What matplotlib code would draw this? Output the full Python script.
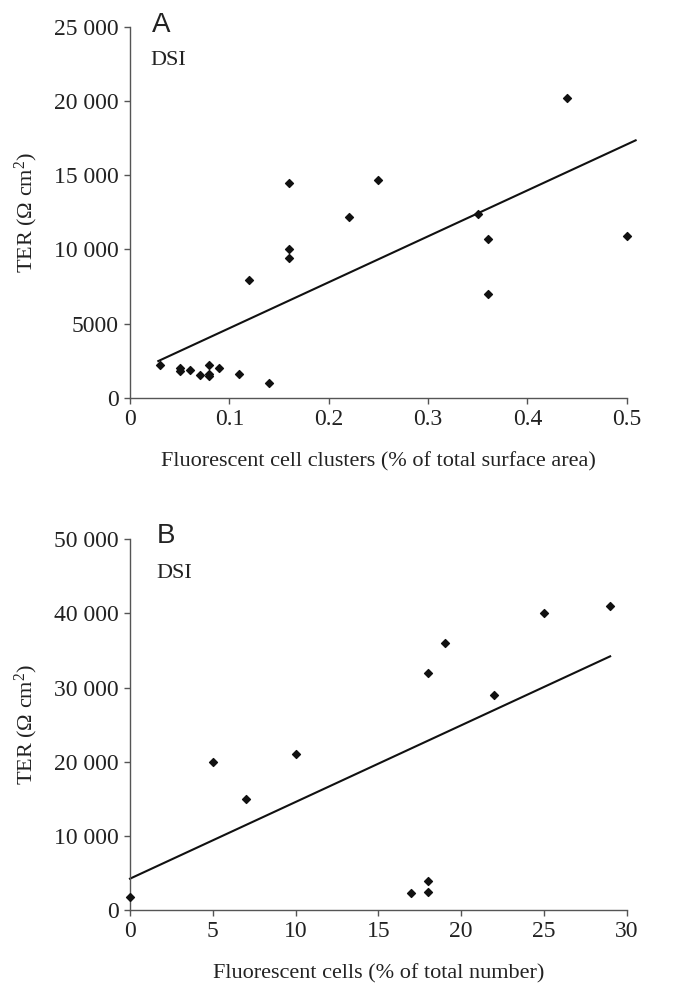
import matplotlib
matplotlib.use("Agg")
import matplotlib.pyplot as plt
import numpy as np

plt.rcParams["font.family"] = "Liberation Serif"
plt.rcParams["mathtext.fontset"] = "custom"
plt.rcParams["mathtext.rm"] = "Liberation Serif"
plt.rcParams["mathtext.it"] = "Liberation Serif:italic"

# Panel A: cluster area vs TER
clusters_pct = [0.03, 0.05, 0.05, 0.06, 0.07, 0.08, 0.08, 0.08, 0.09, 0.11, 0.14,
                0.12, 0.16, 0.16, 0.16, 0.22, 0.25, 0.35, 0.36, 0.36, 0.44, 0.50]
ter_a = [2200, 2000, 1800, 1850, 1550, 2200, 1600, 1450, 2000, 1600, 1000,
         7900, 14500, 10000, 9400, 12200, 14700, 12400, 10700, 7000, 20200, 10900]
trend_a = (30950, 1590)          # slope, intercept
trend_a_range = (0.0285, 0.509)
yticks_a = [0, 5000, 10000, 15000, 20000, 25000]
yticklabels_a = ["0", "5000", "10 000", "15 000", "20 000", "25 000"]
xticks_a = [0, 0.1, 0.2, 0.3, 0.4, 0.5]
xticklabels_a = ["0", "0.1", "0.2", "0.3", "0.4", "0.5"]

# Panel B: fluorescent cell count vs TER
cells_pct = [0, 5, 7, 10, 17, 18, 18, 18, 19, 22, 25, 29]
ter_b = [1800, 20000, 15000, 21000, 2250, 3900, 2450, 32000, 36000, 29000, 40000, 41000]
trend_b = (1034, 4230)
trend_b_range = (0, 29)
yticks_b = [0, 10000, 20000, 30000, 40000, 50000]
yticklabels_b = ["0", "10 000", "20 000", "30 000", "40 000", "50 000"]
xticks_b = [0, 5, 10, 15, 20, 25, 30]
xticklabels_b = ["0", "5", "10", "15", "20", "25", "30"]

fig = plt.figure(figsize=(6.77, 9.85), dpi=100)
ax_a = fig.add_axes([0.192, 0.5962, 0.7337, 0.3767])
ax_b = fig.add_axes([0.192, 0.0761, 0.7337, 0.3764])

panels = [
    (ax_a, clusters_pct, ter_a, trend_a, trend_a_range, xticks_a, xticklabels_a,
     yticks_a, yticklabels_a, (0, 0.5), (0, 25000), "A", (0.044, 0.9865), (0.042, 0.897),
     "Fluorescent cell clusters (% of total surface area)"),
    (ax_b, cells_pct, ter_b, trend_b, trend_b_range, xticks_b, xticklabels_b,
     yticks_b, yticklabels_b, (0, 30), (0, 50000), "B", (0.054, 0.990), (0.054, 0.8956),
     "Fluorescent cells (% of total number)"),
]

for (ax, xs, ys, trend, xr, xt, xtl, yt, ytl, xlim, ylim, letter, lpos, dpos, xlabel) in panels:
    ax.scatter(xs, ys, marker="D", s=16, color="#111111", zorder=3, clip_on=False)
    lx = np.array(xr)
    ax.plot(lx, trend[0] * lx + trend[1], color="#111111", lw=1.5, clip_on=False)
    ax.set_xlim(*xlim)
    ax.set_ylim(*ylim)
    ax.set_xticks(xt)
    ax.set_xticklabels(xtl)
    ax.set_yticks(yt)
    ax.set_yticklabels(ytl)
    for side in ["top", "right"]:
        ax.spines[side].set_visible(False)
    for side in ["left", "bottom"]:
        ax.spines[side].set_color("#555555")
        ax.spines[side].set_linewidth(1.0)
    ax.tick_params(direction="out", length=4, width=1.0, color="#555555",
                   labelsize=17, labelcolor="#222222", pad=4)
    ax.set_xlabel(xlabel, fontsize=16, color="#222222", labelpad=16)
    ax.set_ylabel("TER ($\\Omega$ cm$^2$)", fontsize=16, color="#222222", labelpad=10)
    ax.text(lpos[0], lpos[1], letter, transform=ax.transAxes, fontsize=20,
            family="Liberation Sans", color="#222222", va="baseline")
    ax.text(dpos[0], dpos[1], "DSI", transform=ax.transAxes, fontsize=16,
            color="#222222", va="baseline")

fig.savefig("out.png", dpi=100)
